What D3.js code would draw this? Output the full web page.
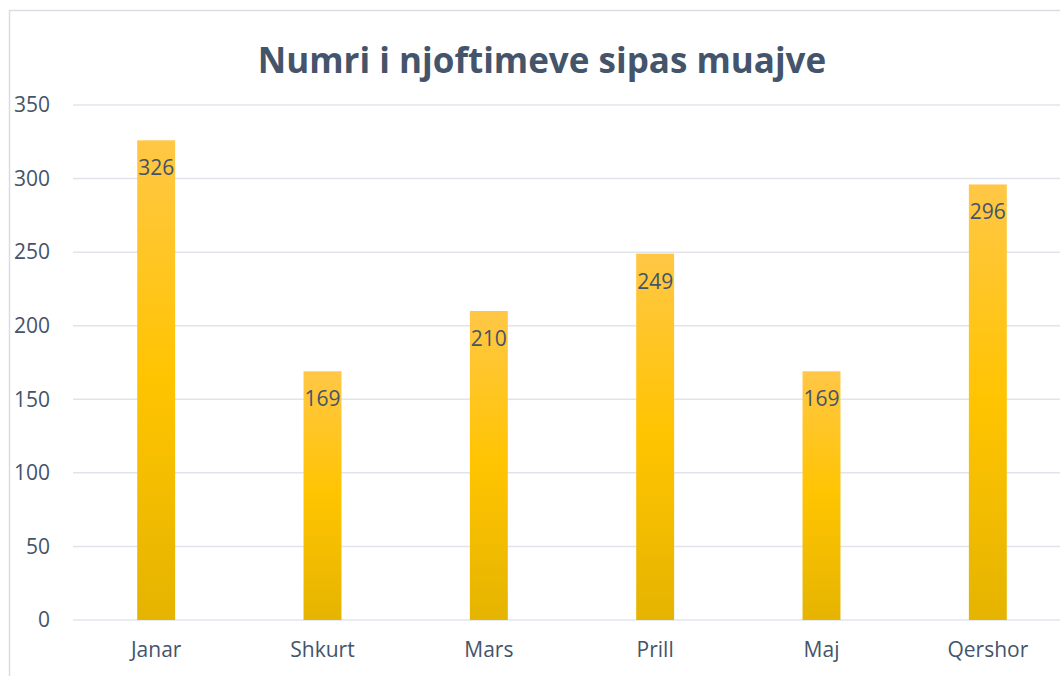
<!DOCTYPE html>
<html>
<head>
<meta charset="utf-8">
<script src="https://cdn.jsdelivr.net/npm/d3@7"></script>
<style>
  html, body { margin: 0; padding: 0; background: #fff; }
  #chart { width: 1060px; height: 676px; overflow: hidden; }
</style>
</head>
<body>
<div id="chart"></div>
<script>
window.addEventListener("load", () => {
  const months = ["Janar", "Shkurt", "Mars", "Prill", "Maj", "Qershor"];
  const counts = [326, 169, 210, 249, 169, 296];
  const yTicks = [0, 50, 100, 150, 200, 250, 300, 350];

  const width = 1060;
  const height = 676;
  const textColor = "#44546A";
  const gridColor = "#E1E4EA";
  const fontFamily = "'Open Sans', 'Noto Sans', sans-serif";

  const svg = d3
    .select("#chart")
    .append("svg")
    .attr("width", width)
    .attr("height", height)
    .style("font-family", fontFamily);

  // gold gradient, one per bar (objectBoundingBox)
  const grad = svg
    .append("defs")
    .append("linearGradient")
    .attr("id", "gold")
    .attr("x1", 0)
    .attr("y1", 0)
    .attr("x2", 0)
    .attr("y2", 1);
  grad.append("stop").attr("offset", "0%").attr("stop-color", "#FFC746");
  grad.append("stop").attr("offset", "50%").attr("stop-color", "#FFC400");
  grad.append("stop").attr("offset", "100%").attr("stop-color", "#E5B400");

  // chart border
  svg
    .append("rect")
    .attr("x", 9.5)
    .attr("y", 10.5)
    .attr("width", 1080)
    .attr("height", 700)
    .attr("fill", "#fff")
    .attr("stroke", "#D9DDE3")
    .attr("stroke-width", 1.5);

  const margin = { left: 73, right: -11, top: 105, bottom: 56 };
  const x = d3
    .scaleBand()
    .domain(months)
    .range([margin.left, width - margin.right])
    .paddingInner(0.772)
    .paddingOuter(0.386);
  const y = d3
    .scaleLinear()
    .domain([0, 350])
    .range([height - margin.bottom, margin.top]);

  // gridlines
  svg
    .append("g")
    .selectAll("line")
    .data(yTicks)
    .join("line")
    .attr("x1", margin.left)
    .attr("x2", width)
    .attr("y1", (d) => y(d))
    .attr("y2", (d) => y(d))
    .attr("stroke", gridColor)
    .attr("stroke-width", 1.5);

  // y axis labels
  const yAxis = svg
    .append("g")
    .attr("transform", `translate(${margin.left - 23},0)`)
    .call(d3.axisLeft(y).tickValues(yTicks).tickSize(0).tickPadding(0));
  yAxis.select(".domain").remove();
  yAxis
    .selectAll("text")
    .attr("fill", textColor)
    .attr("font-size", "21px")
    .attr("font-family", fontFamily);

  // x axis labels
  const xAxis = svg
    .append("g")
    .attr("transform", `translate(0,${y(0)})`)
    .call(d3.axisBottom(x).tickSize(0).tickPadding(22));
  xAxis.select(".domain").remove();
  xAxis
    .selectAll("text")
    .attr("fill", textColor)
    .attr("font-size", "21px")
    .attr("font-family", fontFamily);

  // bars
  svg
    .append("g")
    .selectAll("rect")
    .data(months)
    .join("rect")
    .attr("x", (d) => x(d))
    .attr("width", x.bandwidth())
    .attr("y", (d, i) => y(counts[i]))
    .attr("height", (d, i) => y(0) - y(counts[i]))
    .attr("fill", "url(#gold)");

  // value labels inside top of bars
  svg
    .append("g")
    .selectAll("text")
    .data(months)
    .join("text")
    .attr("x", (d) => x(d) + x.bandwidth() / 2)
    .attr("y", (d, i) => y(counts[i]) + 35)
    .attr("text-anchor", "middle")
    .attr("font-size", "21px")
    .attr("fill", textColor)
    .text((d, i) => counts[i]);

  // title
  svg
    .append("text")
    .attr("x", 542)
    .attr("y", 73)
    .attr("text-anchor", "middle")
    .attr("font-size", "35px")
    .attr("font-weight", "bold")
    .attr("fill", textColor)
    .text("Numri i njoftimeve sipas muajve");
});
</script>
</body>
</html>
